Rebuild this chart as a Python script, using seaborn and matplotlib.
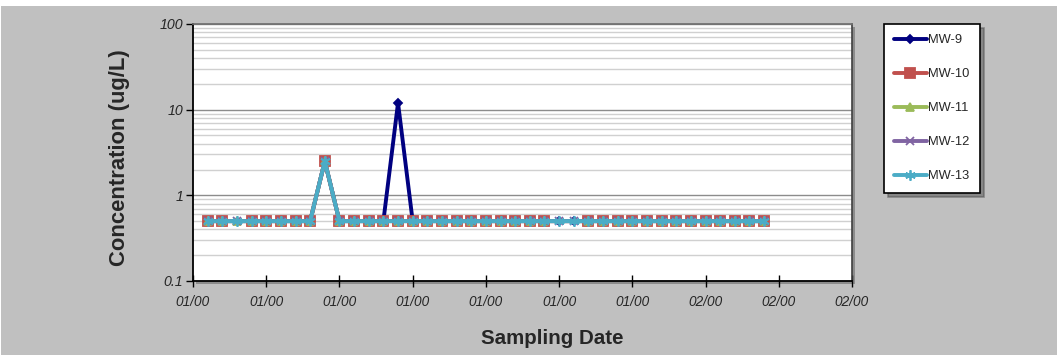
import matplotlib
matplotlib.use("Agg")
import matplotlib.pyplot as plt
import matplotlib.patches as mpatches
import matplotlib.ticker as mticker
import numpy as np
import pandas as pd
import seaborn as sns

# ---- data ----
days = list(range(1, 40))
mw9 = [0.5, 0.5, None, 0.5, 0.5, 0.5, 0.5, 0.5, 2.5, 0.5,
       0.5, 0.5, 0.5, 12.0, 0.5, 0.5, 0.5, 0.5, 0.5, 0.5,
       0.5, 0.5, 0.5, 0.5, 0.5, 0.5, 0.5, 0.5, 0.5, 0.5,
       0.5, 0.5, 0.5, 0.5, 0.5, 0.5, 0.5, 0.5, 0.5]
mw10 = [0.5, 0.5, None, 0.5, 0.5, 0.5, 0.5, 0.5, 2.5, 0.5,
        0.5, 0.5, 0.5, 0.5, 0.5, 0.5, 0.5, 0.5, 0.5, 0.5,
        0.5, 0.5, 0.5, 0.5, None, None, 0.5, 0.5, 0.5, 0.5,
        0.5, 0.5, 0.5, 0.5, 0.5, 0.5, 0.5, 0.5, 0.5]
mw11 = [0.5, 0.5, 0.5, 0.5, 0.5, 0.5, 0.5, 0.5, 2.5, 0.5,
        0.5, 0.5, 0.5, 0.5, 0.5, 0.5, 0.5, 0.5, 0.5, 0.5,
        0.5, 0.5, 0.5, 0.5, None, None, 0.5, 0.5, 0.5, 0.5,
        0.5, 0.5, 0.5, 0.5, 0.5, 0.5, 0.5, 0.5, 0.5]
mw12 = [0.5, 0.5, 0.5, 0.5, 0.5, 0.5, 0.5, 0.5, 2.5, 0.5,
        0.5, 0.5, 0.5, 0.5, 0.5, 0.5, 0.5, 0.5, 0.5, 0.5,
        0.5, 0.5, 0.5, 0.5, 0.5, 0.5, 0.5, 0.5, 0.5, 0.5,
        0.5, 0.5, 0.5, 0.5, 0.5, 0.5, 0.5, 0.5, 0.5]
mw13 = [0.5, 0.5, 0.5, 0.5, 0.5, 0.5, 0.5, 0.5, 2.5, 0.5,
        0.5, 0.5, 0.5, 0.5, 0.5, 0.5, 0.5, 0.5, 0.5, 0.5,
        0.5, 0.5, 0.5, 0.5, 0.5, 0.5, 0.5, 0.5, 0.5, 0.5,
        0.5, 0.5, 0.5, 0.5, 0.5, 0.5, 0.5, 0.5, 0.5]
wells = ["MW-9", "MW-10", "MW-11", "MW-12", "MW-13"]
series = [mw9, mw10, mw11, mw12, mw13]
xtick_vals = [0, 5, 10, 15, 20, 25, 30, 35, 40, 45]
xtick_labels = ["01/00", "01/00", "01/00", "01/00", "01/00",
                "01/00", "01/00", "02/00", "02/00", "02/00"]
ytick_vals = [0.1, 1, 10, 100]
ytick_labels = ["0.1", "1", "10", "100"]

colors = {"MW-9": "#000080", "MW-10": "#C0504D", "MW-11": "#9BBB59",
          "MW-12": "#8064A2", "MW-13": "#4BACC6"}
markers = {"MW-9": "D", "MW-10": "s", "MW-11": "^", "MW-12": "x",
           "MW-13": (6, 2, 0)}
msizes = {"MW-9": 4.5, "MW-10": 6.5, "MW-11": 6, "MW-12": 6, "MW-13": 7.5}

rows = []
for w, vals in zip(wells, series):
    for d, v in zip(days, vals):
        rows.append({"day": d, "conc": v, "well": w})
df = pd.DataFrame(rows).dropna()
df["conc"] = df["conc"].astype(float)

sns.set_theme(style="white")
plt.rcParams["font.family"] = ["Liberation Sans", "DejaVu Sans"]

fig = plt.figure(figsize=(10.58, 3.55), dpi=100)
fig.patch.set_facecolor("white")
fig.patches.append(mpatches.Rectangle((1 / 1058, 0), 1056 / 1058, 349 / 355,
                                      transform=fig.transFigure,
                                      facecolor="#C0C0C0", edgecolor="none",
                                      zorder=-10))
L, R, T, B = 193, 852, 24, 281
ax = fig.add_axes([L / 1058, 1 - B / 355, (R - L) / 1058, (B - T) / 355])
# plot-area shadow
fig.patches.append(mpatches.Rectangle(((L + 3) / 1058, 1 - (B + 3) / 355),
                                      (R - L) / 1058, (B - T) / 355,
                                      transform=fig.transFigure,
                                      facecolor="#8C8C8C", edgecolor="none",
                                      zorder=-5))
ax.set_facecolor("white")

for w in wells:
    sub = df[df["well"] == w]
    sns.lineplot(data=sub, x="day", y="conc", ax=ax, color=colors[w],
                 marker=markers[w], markersize=msizes[w], linewidth=2.8,
                 markeredgecolor=colors[w], markeredgewidth=1.3,
                 label=w, estimator=None, sort=False)

ax.set_yscale("log")
ax.set_ylim(0.1, 100)
ax.set_xlim(0, 45)
ax.set_xticks(xtick_vals)
ax.set_xticklabels(xtick_labels, fontsize=9.8, style="italic")
ax.set_yticks(ytick_vals)
ax.set_yticklabels(ytick_labels, fontsize=10.2, style="italic")
ax.yaxis.set_minor_locator(mticker.LogLocator(base=10, subs=np.arange(2, 10)))
ax.yaxis.set_minor_formatter(mticker.NullFormatter())
ax.grid(True, which="major", axis="y", color="#8C8C8C", linewidth=1.0)
ax.grid(True, which="minor", axis="y", color="#D0D0D0", linewidth=1.0)
ax.set_axisbelow(True)
ax.tick_params(axis="y", which="major", direction="out", length=5, width=1,
               color="black", left=True, pad=2)
ax.tick_params(axis="y", which="minor", length=0)
ax.tick_params(axis="x", which="major", direction="inout", length=8, width=1,
               color="black", bottom=True, pad=6)
for s in ["left", "bottom"]:
    ax.spines[s].set_color("black")
    ax.spines[s].set_linewidth(1.3)
ax.spines["top"].set_color("#707070")
ax.spines["right"].set_color("#404040")
ax.spines["right"].set_linewidth(1.2)

ax.set_xlabel("Sampling Date", fontsize=14.8, fontweight="bold")
ax.set_ylabel("Concentration (ug/L)", fontsize=15.8, fontweight="bold")
ax.xaxis.label.set_va("center")
ax.xaxis.set_label_coords(0.545, -0.222)
ax.yaxis.label.set_va("center")
ax.yaxis.set_label_coords(-0.111, 0.479)

leg = ax.legend(loc="upper left", bbox_to_anchor=(884 / 1058, 1 - 24 / 355),
                bbox_transform=fig.transFigure, frameon=True, fontsize=9.3,
                handlelength=2.5, handletextpad=0.1, labelspacing=1.7,
                borderpad=0.8, borderaxespad=0, fancybox=False,
                shadow={"ox": 3, "oy": -3})
leg.get_frame().set_edgecolor("black")
leg.get_frame().set_linewidth(1.2)
leg.get_frame().set_facecolor("white")

fig.savefig("out.png", dpi=100, facecolor=fig.get_facecolor())
